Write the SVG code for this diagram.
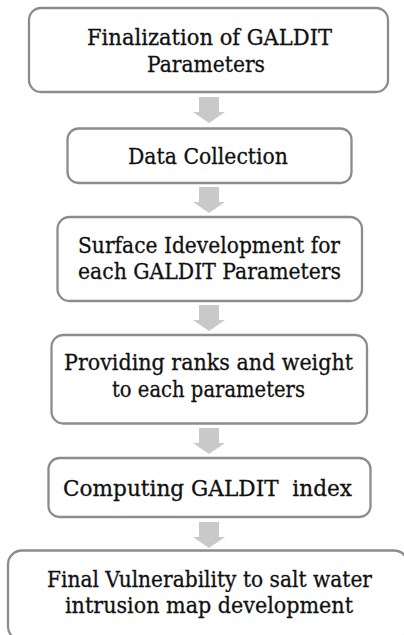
<svg xmlns="http://www.w3.org/2000/svg" width="404" height="635" viewBox="0 0 404 635">
  <style>
    .box { fill: #ffffff; stroke: #8c8c8c; stroke-width: 2.3; }
    .lbl { font-family: "DejaVu Serif", "Liberation Serif", serif; font-size: 22px; fill: #111111; stroke: #111111; stroke-width: 0.3; text-anchor: middle; white-space: pre; }
    .arrow { fill: #c9c9c9; }
  </style>
  <defs>
    <!-- block down-arrow used between steps, origin at top centre -->
    <path id="down" d="M-10,0 H10 V15 H16 L0,26 L-16,15 H-10 Z"/>
  </defs>
  <rect width="404" height="635" fill="#ffffff"/>

  <g id="connectors">
    <use href="#down" class="arrow" x="209" y="97"/>
    <use href="#down" class="arrow" x="209" y="187"/>
    <use href="#down" class="arrow" x="209" y="305"/>
    <use href="#down" class="arrow" x="209" y="428"/>
    <use href="#down" class="arrow" x="209" y="522"/>
  </g>

  <g id="step1">
    <rect class="box" x="29" y="8" width="359" height="84" rx="12"/>
    <text class="lbl" x="209.5" y="45" textLength="245" lengthAdjust="spacingAndGlyphs">Finalization of GALDIT</text>
    <text class="lbl" x="206" y="72" textLength="118" lengthAdjust="spacingAndGlyphs">Parameters</text>
  </g>

  <g id="step2">
    <rect class="box" x="67.5" y="128.5" width="284" height="54.5" rx="11"/>
    <text class="lbl" x="208" y="163.5" textLength="160" lengthAdjust="spacingAndGlyphs">Data Collection</text>
  </g>

  <g id="step3">
    <rect class="box" x="57.5" y="217" width="304.5" height="84" rx="12"/>
    <text class="lbl" x="209" y="252.5" textLength="262" lengthAdjust="spacingAndGlyphs">Surface Idevelopment for</text>
    <text class="lbl" x="209.5" y="278.5" textLength="263" lengthAdjust="spacingAndGlyphs">each GALDIT Parameters</text>
  </g>

  <g id="step4">
    <rect class="box" x="51.5" y="335" width="315.5" height="88.5" rx="12"/>
    <text class="lbl" x="208.5" y="370" textLength="289" lengthAdjust="spacingAndGlyphs">Providing ranks and weight</text>
    <text class="lbl" x="208.5" y="397" textLength="193" lengthAdjust="spacingAndGlyphs">to each parameters</text>
  </g>

  <g id="step5">
    <rect class="box" x="48.5" y="458" width="322" height="59" rx="11"/>
    <text class="lbl" x="207.5" y="495.5" textLength="289" lengthAdjust="spacingAndGlyphs" xml:space="preserve">Computing GALDIT  index</text>
  </g>

  <g id="step6">
    <rect class="box" x="8" y="550.5" width="400" height="90" rx="14"/>
    <text class="lbl" x="209.5" y="586.5" textLength="325" lengthAdjust="spacingAndGlyphs">Final Vulnerability to salt water</text>
    <text class="lbl" x="209" y="612.5" textLength="288" lengthAdjust="spacingAndGlyphs">intrusion map development</text>
  </g>
</svg>
